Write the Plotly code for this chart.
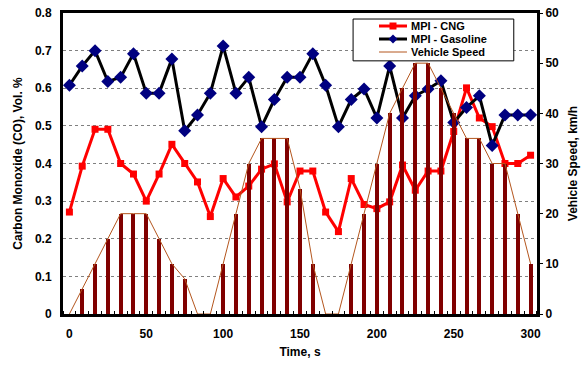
import plotly.graph_objects as go

# Sampling instants of the test cycle (s)
time_s = [0, 8.33, 16.67, 25, 33.33, 41.67, 50, 58.33, 66.67, 75, 83.33, 91.67,
          100, 108.33, 116.67, 125, 133.33, 141.67, 150, 158.33, 166.67, 175,
          183.33, 191.67, 200, 208.33, 216.67, 225, 233.33, 241.67, 250, 258.33,
          266.67, 275, 283.33, 291.67, 300]

# CO concentration, Vol. %
co_cng = [0.271, 0.393, 0.491, 0.491, 0.400, 0.372, 0.300, 0.372, 0.451, 0.400,
          0.351, 0.259, 0.360, 0.311, 0.340, 0.385, 0.399, 0.298, 0.380, 0.380,
          0.271, 0.219, 0.360, 0.291, 0.280, 0.298, 0.396, 0.329, 0.380, 0.380,
          0.485, 0.601, 0.521, 0.498, 0.400, 0.400, 0.422]
co_gasoline = [0.608, 0.659, 0.700, 0.618, 0.629, 0.692, 0.587, 0.587, 0.678, 0.487,
               0.529, 0.587, 0.712, 0.587, 0.629, 0.498, 0.570, 0.629, 0.629, 0.692,
               0.608, 0.498, 0.570, 0.598, 0.521, 0.659, 0.521, 0.580, 0.598, 0.620,
               0.509, 0.549, 0.580, 0.448, 0.529, 0.529, 0.529]

# Vehicle speed, km/h
speed_kmh = [0, 5, 10, 15, 20, 20, 20, 15, 10, 7, 0, 0, 10, 20, 30, 35, 35, 35, 25,
             10, 0, 0, 10, 20, 30, 40, 45, 50, 50, 45, 40, 35, 35, 30, 30, 20, 10]

FONT = "Liberation Sans"
bold = dict(family=FONT, size=12, color="black", weight="bold")
legend_font = dict(family=FONT, size=11, color="black", weight="bold")

CNG_RED = "#FF0000"
GAS_LINE = "#000000"
GAS_MARK = "#000080"
SPEED_LINE = "#B4561E"
BAR_RED = "#800000"

fig = go.Figure()

fig.add_trace(go.Bar(
    x=time_s, y=speed_kmh, width=2.6,
    marker=dict(color=BAR_RED, line=dict(width=0)),
    showlegend=False, hoverinfo="skip", xaxis="x", yaxis="y2"))
fig.add_trace(go.Scatter(
    x=time_s, y=speed_kmh, mode="lines", name="Vehicle Speed",
    line=dict(color=SPEED_LINE, width=1), showlegend=False,
    xaxis="x", yaxis="y2"))

fig.add_trace(go.Scatter(
    x=time_s, y=co_cng, mode="lines+markers", name="MPI - CNG",
    line=dict(color=CNG_RED, width=3),
    marker=dict(symbol="square", size=7, color=CNG_RED),
    showlegend=False, xaxis="x", yaxis="y"))
fig.add_trace(go.Scatter(
    x=time_s, y=co_gasoline, mode="lines+markers", name="MPI - Gasoline",
    line=dict(color=GAS_LINE, width=3),
    marker=dict(symbol="diamond", size=10, color=GAS_MARK),
    showlegend=False, xaxis="x", yaxis="y"))

# compact legend box drawn in paper coordinates
PLOT_W, PLOT_H = 474, 301
px = lambda v: v / PLOT_W
py = lambda v: v / PLOT_H
box = dict(x0=0.612, x1=0.951, y0=0.841, y1=0.980)
rows = [0.9568, 0.9136, 0.8704]
sample_x0, sample_x1, mark_x, text_x = 0.6667, 0.7257, 0.6962, 0.733

shapes = [dict(type="rect", xref="paper", yref="paper", layer="above",
               fillcolor="white", line=dict(color="black", width=1), **box)]
entries = [("MPI - CNG", CNG_RED, 3, "square", CNG_RED),
           ("MPI - Gasoline", GAS_LINE, 3, "diamond", GAS_MARK),
           ("Vehicle Speed", SPEED_LINE, 1, None, None)]
annotations = []
for (label, lc, lw, sym, mc), ry in zip(entries, rows):
    shapes.append(dict(type="line", xref="paper", yref="paper", layer="above",
                       x0=sample_x0, x1=sample_x1, y0=ry, y1=ry,
                       line=dict(color=lc, width=lw)))
    if sym == "square":
        shapes.append(dict(type="rect", xref="paper", yref="paper", layer="above",
                           x0=mark_x - px(3.5), x1=mark_x + px(3.5),
                           y0=ry - py(3.5), y1=ry + py(3.5),
                           fillcolor=mc, line=dict(width=0)))
    elif sym == "diamond":
        r, s = px(4.5), py(4.5)
        path = (f"M {mark_x - r},{ry} L {mark_x},{ry + s} "
                f"L {mark_x + r},{ry} L {mark_x},{ry - s} Z")
        shapes.append(dict(type="path", xref="paper", yref="paper", layer="above",
                           path=path, fillcolor=mc, line=dict(width=0)))
    annotations.append(dict(text=label, xref="paper", yref="paper",
                            x=text_x, y=ry, xanchor="left", yanchor="middle",
                            showarrow=False, font=legend_font,
                            borderpad=0))

fig.update_layout(
    width=582, height=370,
    margin=dict(l=63, r=45, t=13, b=56, autoexpand=False),
    plot_bgcolor="white", paper_bgcolor="white",
    bargap=0, barmode="overlay",
    font=bold,
    showlegend=False,
    shapes=shapes,
    annotations=annotations,
    xaxis=dict(
        range=[-4.17, 304.17], tickmode="array",
        tickvals=[0, 50, 100, 150, 200, 250, 300],
        ticks="", showgrid=False, zeroline=False, automargin=False,
        showline=True, linecolor="black", linewidth=3, mirror=True,
        ticklabelstandoff=7,
        tickfont=bold,
        minor=dict(tick0=4.1667, dtick=8.3333, ticks="inside",
                   ticklen=3, tickcolor="black", tickwidth=1, showgrid=False),
        title=dict(text="Time, s", font=bold, standoff=8),
    ),
    yaxis=dict(
        side="left", range=[0, 0.8], dtick=0.1,
        ticks="", zeroline=False, automargin=False,
        showline=True, linecolor="black", linewidth=3, mirror=True,
        showgrid=True, gridcolor="#808080", griddash="dot", gridwidth=1,
        tickfont=bold, ticklabelstandoff=6,
        title=dict(text="Carbon Monoxide (CO), Vol. %", font=bold, standoff=10),
    ),
    yaxis2=dict(
        side="right", overlaying="y", range=[0, 60], dtick=10,
        ticks="outside", ticklen=5, tickcolor="black", tickwidth=1,
        showgrid=False, zeroline=False, showline=False, automargin=False,
        tickfont=bold,
        title=dict(text="Vehicle Speed, km/h", font=bold, standoff=10),
    ),
)

fig.write_html("out.html")
